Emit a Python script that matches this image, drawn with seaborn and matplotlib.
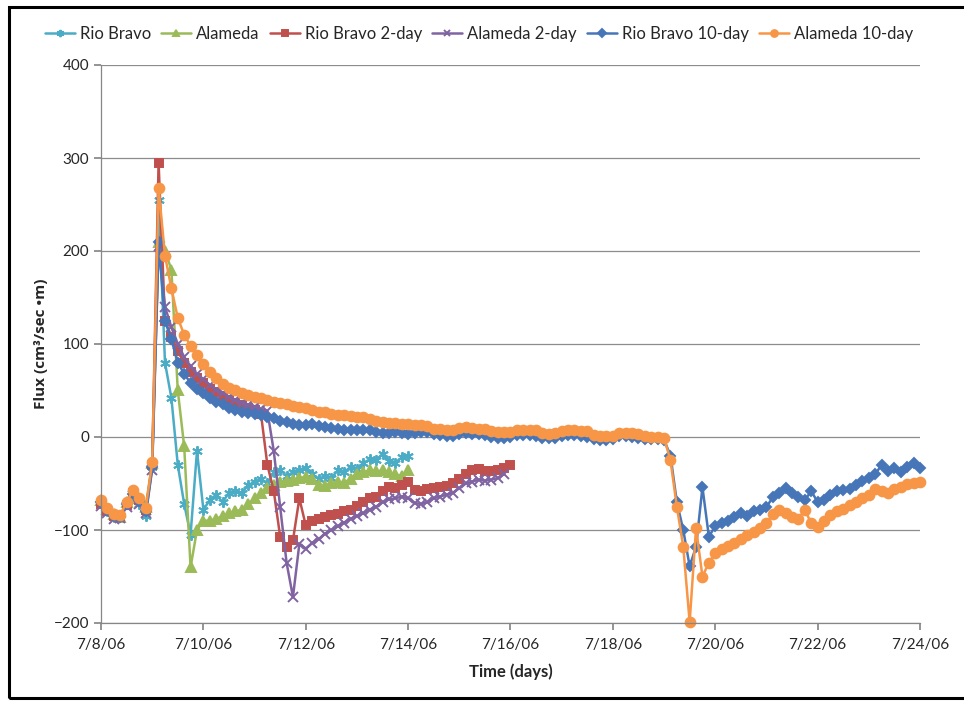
import numpy as np
import pandas as pd
import seaborn as sns
import matplotlib.pyplot as plt
from matplotlib.patches import Rectangle

# readings every 3 hours (0.125 day) starting 7/8/06 00:00
step = 0.125

rio_bravo = [-70, -80, -86, -84, -72, -58, -72, -85, -32,
             255, 80, 42, -30, -72, -105, -15, -78,
             -68, -62, -70, -60, -58, -60, -52, -48, -45, -50, -38, -35, -42, -38, -35, -33,
             -40, -45, -42, -44, -36, -38, -32, -34, -28, -24, -25, -18, -26, -28, -22, -20]

alameda = [-68, -77, -83, -86, -70, -62, -66, -75, -28,
           210, 200, 180, 50, -10, -140, -100, -90,
           -90, -88, -85, -82, -80, -78, -72, -66, -60, -55, -52, -48, -47, -46, -44, -43,
           -45, -52, -53, -50, -48, -49, -45, -40, -38, -36, -37, -36, -38, -40, -42, -36]

rio_bravo_2day = [-72, -80, -85, -85, -73, -60, -68, -78, -30,
                  295, 125, 108, 92, 80, 70, 63, 58,
                  52, 48, 44, 40, 37, 34, 31, 29, 25, -30, -58, -107, -118, -111, -66, -95,
                  -90, -88, -86, -84, -83, -80, -78, -74, -70, -66, -64, -58, -54, -55, -52, -48,
                  -57, -58, -56, -55, -54, -53, -50, -45, -40, -36, -34, -37, -37, -36, -33, -30]

alameda_2day = [-74, -82, -88, -87, -75, -63, -72, -82, -35,
                205, 140, 118, 100, 86, 76, 68, 62,
                56, 51, 47, 43, 40, 37, 34, 32, 30, 28, -15, -75, -135, -172, -115, -120,
                -114, -110, -104, -100, -96, -92, -88, -85, -82, -78, -75, -70, -67, -66, -64, -66,
                -71, -72, -70, -66, -64, -62, -60, -55, -50, -48, -46, -47, -46, -44, -40]

rio_bravo_10day = [-70, -79, -85, -86, -72, -61, -69, -80, -32,
                   210, 125, 105, 80, 68, 58, 52, 47,
                   42, 38, 35, 31, 29, 27, 26, 25, 24, 22, 20, 17, 16, 14, 13, 13,
                   14, 12, 11, 10, 9, 8, 7, 7, 8, 7, 5, 4, 4, 5, 4, 3,
                   4, 5, 5, 3, 2, 1, 1, 3, 4, 3, 3, 2, 0, -1, -1, 0,
                   2, 2, 2, 1, -1, -1, -1, 1, 2, 2, 1, 0, -2, -3, -3, -2,
                   1, 1, 0, -1, -2, -2, -2, -3, -20, -70, -100, -139, -118, -54, -107, -96,
                   -93, -90, -86, -82, -85, -80, -78, -75, -65, -60, -55, -60, -64, -68, -58, -70,
                   -68, -62, -58, -57, -56, -52, -47, -44, -40, -30, -37, -33, -38, -32, -28, -33]

alameda_10day = [-68, -76, -83, -84, -70, -57, -66, -76, -27,
                 268, 195, 160, 128, 110, 98, 88, 78,
                 70, 63, 57, 53, 50, 47, 45, 43, 42, 40, 38, 37, 35, 33, 32, 31,
                 29, 27, 27, 25, 24, 24, 23, 22, 21, 19, 17, 16, 15, 15, 14, 14,
                 13, 13, 12, 9, 9, 8, 8, 10, 11, 10, 9, 9, 6, 5, 5, 5,
                 8, 8, 8, 7, 4, 3, 4, 6, 7, 7, 6, 6, 2, 1, 1, 1,
                 4, 4, 4, 3, 1, 0, 0, -1, -25, -75, -118, -199, -98, -150, -135, -125,
                 -120, -117, -114, -110, -105, -102, -98, -93, -83, -78, -82, -86, -88, -78, -93, -97,
                 -90, -84, -80, -77, -73, -70, -66, -62, -56, -58, -60, -56, -54, -51, -49, -48]

series_names = ["Rio Bravo", "Alameda", "Rio Bravo 2-day", "Alameda 2-day",
                "Rio Bravo 10-day", "Alameda 10-day"]
series_values = [rio_bravo, alameda, rio_bravo_2day, alameda_2day,
                 rio_bravo_10day, alameda_10day]
colors = ["#4BACC6", "#9BBB59", "#C0504D", "#8064A2", "#4676B8", "#F79646"]
markers = [(6, 2, 0), "^", "s", "x", "D", "o"]
marker_sizes = [7.5, 6.5, 5.5, 6.5, 5.5, 7]

tick_days = [0, 2, 4, 6, 8, 10, 12, 14, 16]
tick_labels = ["7/8/06", "7/10/06", "7/12/06", "7/14/06", "7/16/06",
               "7/18/06", "7/20/06", "7/22/06", "7/24/06"]

sns.set_theme(style="white")
plt.rcParams["font.family"] = ["Lato", "DejaVu Sans"]

fig = plt.figure(figsize=(9.64, 7.01), dpi=100)
ax = fig.add_axes([101 / 964, 1 - 623 / 701, (920 - 101) / 964, (623 - 65) / 701])

for name, vals, c, m, ms in zip(series_names, series_values, colors, markers, marker_sizes):
    df = pd.DataFrame({"day": np.arange(len(vals)) * step, "flux": vals})
    sns.lineplot(data=df, x="day", y="flux", ax=ax, color=c, marker=m, markersize=ms,
                 markeredgecolor=c, markeredgewidth=1.4, linewidth=1.8, label=name,
                 clip_on=False)

ax.set_xlim(0, 16)
ax.set_ylim(-200, 400)
ax.set_xticks(tick_days)
ax.set_xticklabels(tick_labels, fontsize=11)
ax.set_yticks(range(-200, 401, 100))
ax.tick_params(axis="y", labelsize=11, length=5, color="#868686", direction="out", left=True)
ax.tick_params(axis="x", length=5, color="#868686", direction="out", bottom=True, pad=6)
ax.yaxis.grid(True, color="#8c8c8c", linewidth=0.9)
ax.xaxis.grid(False)
for side in ["top", "right"]:
    ax.spines[side].set_visible(False)
for side in ["left", "bottom"]:
    ax.spines[side].set_color("#868686")
    ax.spines[side].set_linewidth(0.9)

ax.set_xlabel("Time (days)", fontsize=12, fontweight="bold", labelpad=8)
ax.set_ylabel("Flux (cm³/sec \u2022m)", fontsize=11, fontweight="bold", labelpad=4,
              family=["Open Sans", "DejaVu Sans"])

h, l = ax.get_legend_handles_labels()
ax.get_legend().remove()
fig.legend(h, l, loc="center", bbox_to_anchor=(0.497, 1 - 34 / 701), ncol=6,
           frameon=False, fontsize=12, handlelength=1.8, handletextpad=0.3,
           columnspacing=0.6, markerscale=0.7)

fig.patches.append(Rectangle((9 / 964, 1 - 698 / 701), 1.0, (698 - 7) / 701,
                             transform=fig.transFigure, fill=False,
                             edgecolor="black", linewidth=2.2))

fig.savefig("out.png", dpi=100)
